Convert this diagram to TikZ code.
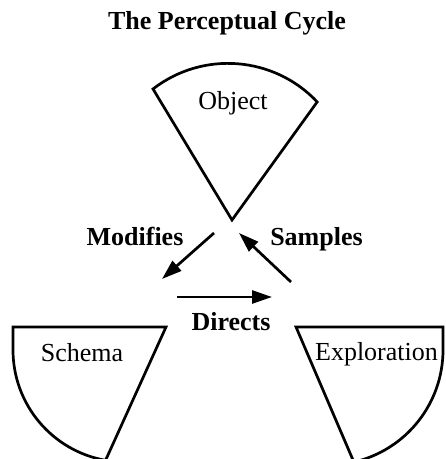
\documentclass[tikz,border=0pt]{standalone}
\usepackage{fontspec}
\setmainfont{Liberation Serif}
\usetikzlibrary{arrows.meta}

\begin{document}
\begin{tikzpicture}[x=0.5pt,y=0.5pt,
  part/.style={draw,line width=1.35pt},
  flow/.style={line width=1.35pt,-{Triangle[length=10pt,width=6.5pt]}},
  lbl/.style={font=\fontsize{13}{15}\selectfont,anchor=base,inner sep=0pt},
  blbl/.style={lbl,font=\fontsize{13}{15}\selectfont\bfseries}]
\useasboundingbox (0,0) rectangle (445,-459);
% title
\node[blbl] (title) at (227,-30) {The Perceptual Cycle};
% the three parts of the cycle
\coordinate (objapex) at (232,-220);
\draw[part] (317.2,-101.9) arc[start angle=43.3,end angle=127.7,radius=122.6] -- (objapex) -- cycle;
\coordinate (schcorner) at (166,-327);
\draw[part] (schcorner) -- (13,-327) -- (13,-350) arc[start angle=180,end angle=260,radius=112] -- cycle;
\coordinate (expcorner) at (296,-327);
\draw[part] (expcorner) -- (443,-327) -- (443,-350) arc[start angle=0,end angle=-77,radius=115] -- cycle;
\node[lbl] (object) at (233,-110) {Object};
\node[lbl] (schema) at (82,-361) {Schema};
\node[lbl] (exploration) at (376.5,-360) {Exploration};
% arrows
\coordinate (modfrom) at (214,-233);
\coordinate (modto) at (162,-279);
\coordinate (dirfrom) at (177,-297);
\coordinate (dirto) at (272,-297);
\coordinate (samfrom) at (291,-282);
\coordinate (samto) at (239,-233);
\draw[flow] (modfrom) -- (modto);
\draw[flow] (dirfrom) -- (dirto);
\draw[flow] (samfrom) -- (samto);
\node[blbl] (modifies) at (135,-246) {Modifies};
\node[blbl] (samples) at (316.5,-246) {Samples};
\node[blbl] (directs) at (231,-330) {Directs};
\end{tikzpicture}
\end{document}
